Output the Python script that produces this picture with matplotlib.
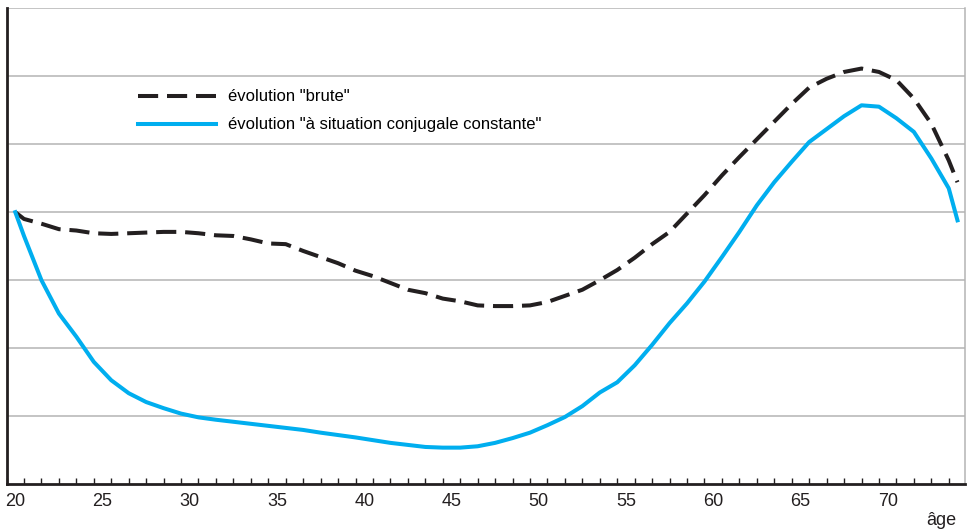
import matplotlib
matplotlib.use("Agg")
import matplotlib.pyplot as plt

plt.rcParams['font.family'] = ['Liberation Sans Narrow', 'Liberation Sans', 'DejaVu Sans']

# ages (years) and indexed values
ages = [20, 20.5, 21.5, 22.5, 23.5, 24.5, 25.5, 26.5, 27.5, 28.5, 29.5, 30.5,
        31.5, 32.5, 33.5, 34.5, 35.5, 36.5, 37.5, 38.5, 39.5, 40.5, 41.5, 42.5,
        43.5, 44.5, 45.5, 46.5, 47.5, 48.5, 49.5, 50.5, 51.5, 52.5, 53.5, 54.5,
        55.5, 56.5, 57.5, 58.5, 59.5, 60.5, 61.5, 62.5, 63.5, 64.5, 65.5, 66.5,
        67.5, 68.5, 69.5, 70.5, 71.5, 72.5, 73.5, 74]

brute = [4.00, 3.90, 3.83, 3.75, 3.73, 3.69, 3.68, 3.69, 3.70, 3.71, 3.71, 3.69,
         3.66, 3.65, 3.60, 3.54, 3.53, 3.43, 3.34, 3.25, 3.14, 3.06, 2.96, 2.86,
         2.81, 2.73, 2.69, 2.63, 2.62, 2.62, 2.63, 2.68, 2.77, 2.86, 3.00, 3.15,
         3.33, 3.53, 3.71, 3.98, 4.25, 4.54, 4.81, 5.07, 5.33, 5.59, 5.83, 5.96,
         6.06, 6.11, 6.06, 5.94, 5.67, 5.30, 4.76, 4.44]

constante = [4.00, 3.65, 3.00, 2.51, 2.17, 1.80, 1.53, 1.34, 1.21, 1.12, 1.04,
             0.985, 0.95, 0.92, 0.89, 0.86, 0.83, 0.80, 0.76, 0.725, 0.69, 0.65,
             0.61, 0.58, 0.55, 0.54, 0.54, 0.56, 0.61, 0.68, 0.76, 0.87, 0.99,
             1.15, 1.35, 1.50, 1.75, 2.05, 2.37, 2.66, 2.98, 3.34, 3.71, 4.10,
             4.44, 4.74, 5.03, 5.22, 5.41, 5.57, 5.55, 5.38, 5.18, 4.79, 4.35,
             3.88]

label_brute = 'évolution "brute"'
label_const = 'évolution "à situation conjugale constante"'
xlabels = [20, 25, 30, 35, 40, 45, 50, 55, 60, 65, 70]
# tick marks sit on the year boundaries
xticks_minor = [a + 0.5 for a in range(19, 74)]
grid_levels = [1, 2, 3, 4, 5, 6, 7]

fig = plt.figure(figsize=(9.68, 5.32), dpi=100)
ax = fig.add_axes([0.00677, 0.0895, 0.9901, 0.8955])

for g in grid_levels:
    ax.axhline(g, color='#b4b4b4', lw=1.1, zorder=1)

ax.plot(ages, brute, color='#231f20', lw=2.9, dashes=(5, 2.2),
        label=label_brute, zorder=3)
ax.plot(ages, constante, color='#00aeef', lw=2.9, label=label_const, zorder=4)

ax.set_xlim(19.5, 74.43)
ax.set_ylim(0, 7)

ax.set_yticks([])
ax.set_xticks(xlabels)
ax.set_xticklabels([str(t) for t in xlabels], fontsize=13, color='#231f20')
ax.set_xticks(xticks_minor, minor=True)
ax.tick_params(axis='x', which='major', length=0, pad=6)
ax.tick_params(axis='x', which='minor', direction='in', length=4.5, width=1,
               color='#231f20')

ax.spines['top'].set_visible(False)
ax.spines['right'].set_color('#b4b4b4')
ax.spines['right'].set_linewidth(1.1)
ax.spines['left'].set_color('#231f20')
ax.spines['left'].set_linewidth(2)
ax.spines['bottom'].set_color('#231f20')
ax.spines['bottom'].set_linewidth(2)

ax.legend(loc='upper left', bbox_to_anchor=(0.137, 0.829), frameon=False,
          fontsize=12, handlelength=4.7, handletextpad=0.7, labelspacing=0.78,
          borderpad=0, borderaxespad=0)

fig.text(0.972, 0.013, 'âge', fontsize=13, ha='center', va='baseline', color='#231f20')

fig.savefig('out.png', dpi=100)
